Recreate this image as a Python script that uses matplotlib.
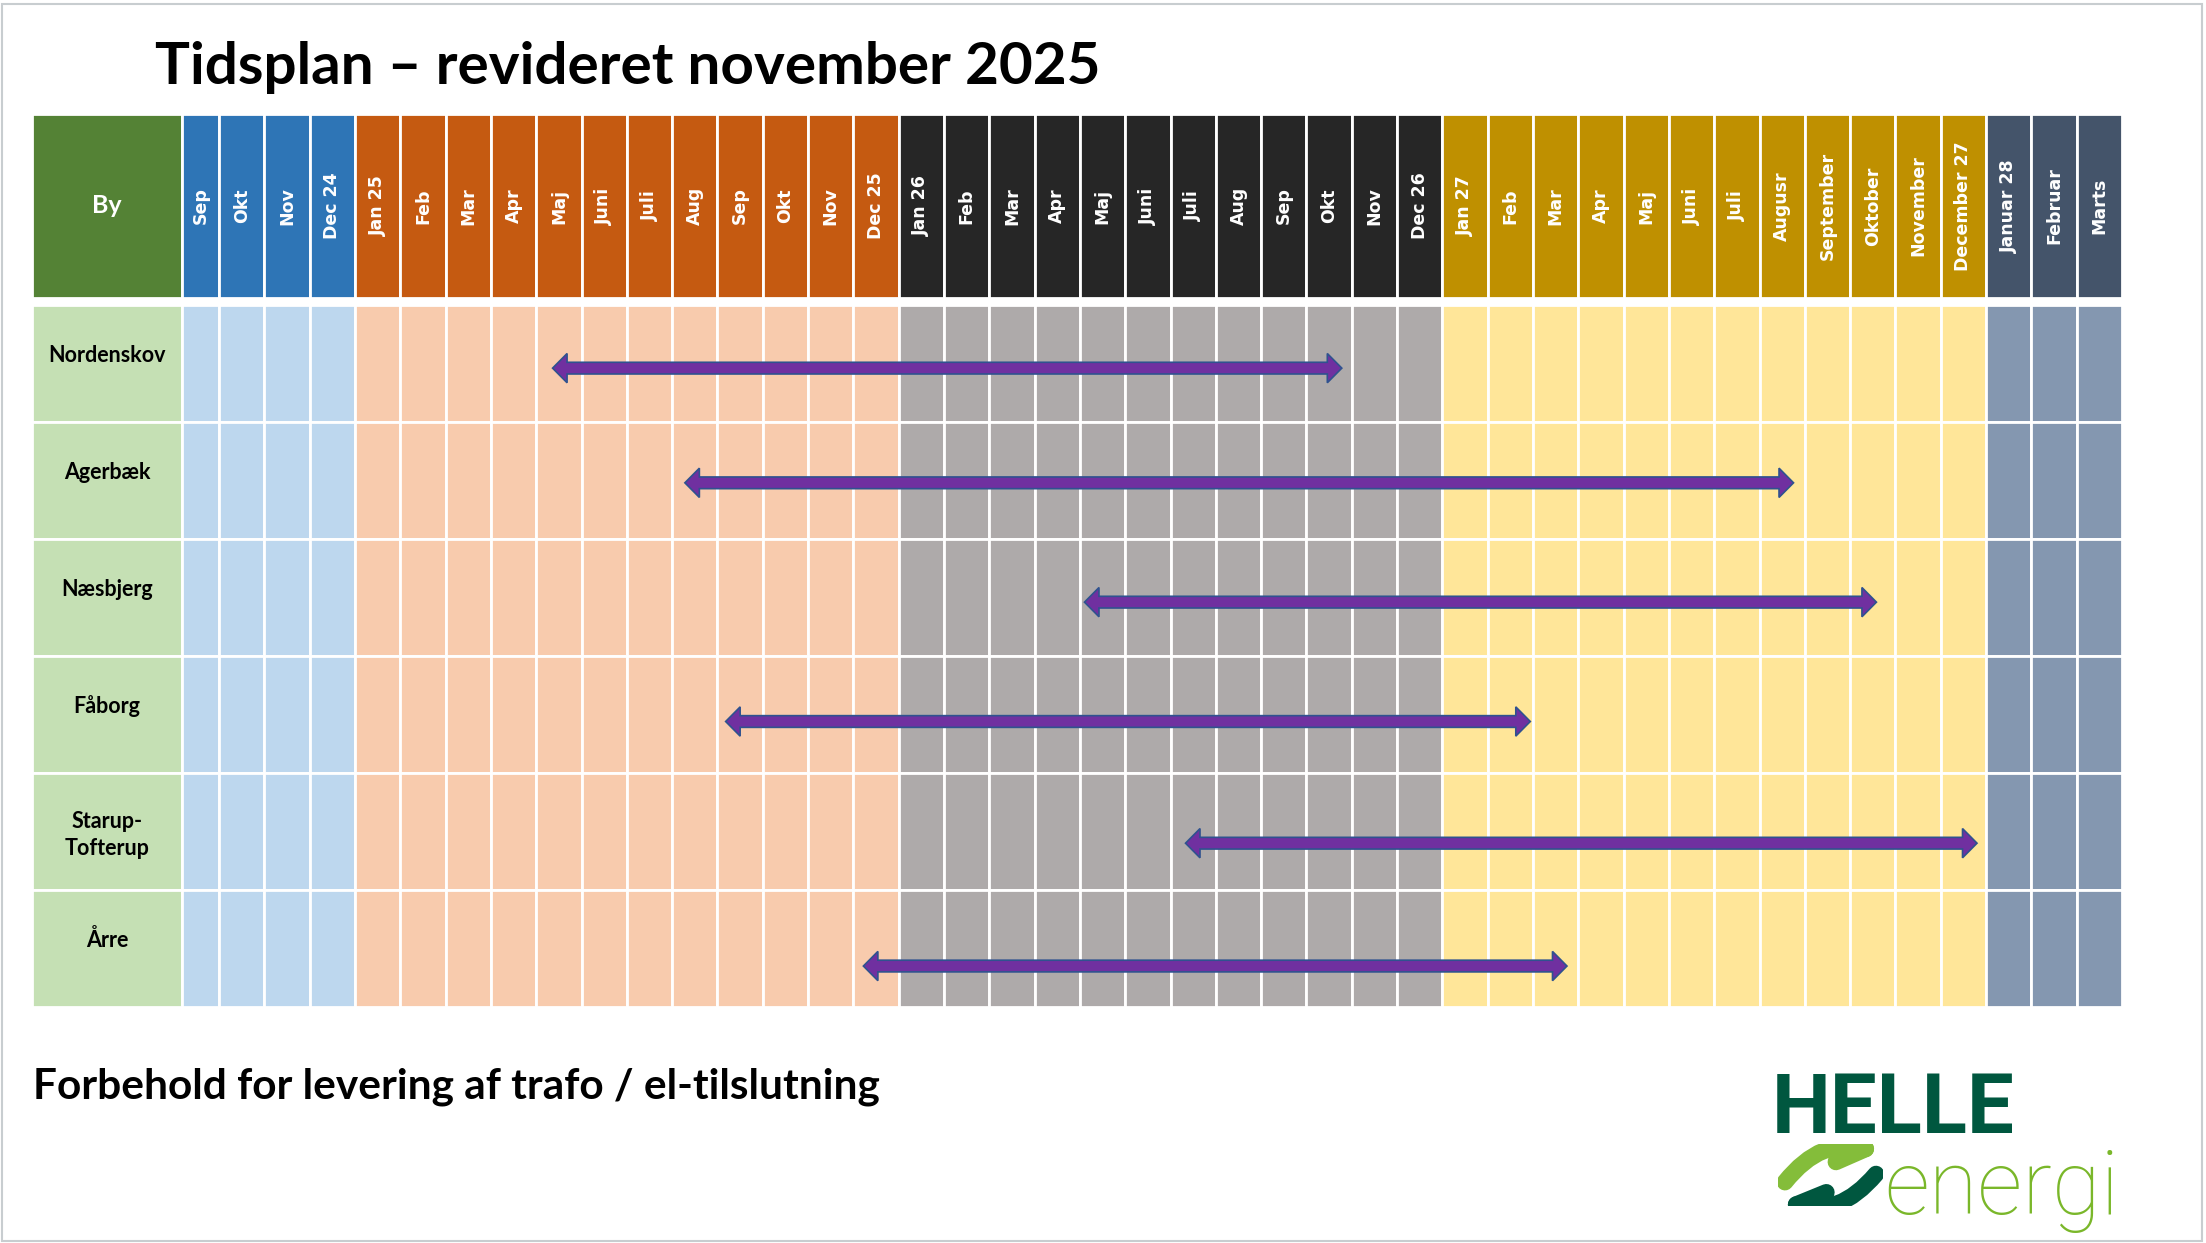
import numpy as np
import matplotlib
matplotlib.use("Agg")
import matplotlib.pyplot as plt
from matplotlib.patches import Rectangle, Polygon, FancyArrowPatch

# --- data -------------------------------------------------------------
months = ["Sep", "Okt", "Nov", "Dec 24",
          "Jan 25", "Feb", "Mar", "Apr", "Maj", "Juni", "Juli", "Aug", "Sep", "Okt", "Nov", "Dec 25",
          "Jan 26", "Feb", "Mar", "Apr", "Maj", "Juni", "Juli", "Aug", "Sep", "Okt", "Nov", "Dec 26",
          "Jan 27", "Feb", "Mar", "Apr", "Maj", "Juni", "Juli", "Augusr", "September", "Oktober",
          "November", "December 27",
          "Januar 28", "Februar", "Marts"]
group_sizes = [4, 12, 12, 12, 3]
header_colors = ["#2e75b6", "#c55a11", "#262626", "#bf9000", "#44546a"]
body_colors = ["#bdd7ee", "#f8cbad", "#aeaaaa", "#ffe699", "#8497b0"]

towns = ["Nordenskov", "Agerbæk", "Næsbjerg", "Fåborg", "Starup-\nTofterup", "Årre"]
# arrow ends in month-column units (column i spans [i, i+1])
arrow_start = [8.36, 11.28, 20.10, 12.18, 22.33, 15.22]
arrow_end = [25.78, 35.75, 37.58, 29.94, 39.80, 30.75]
arrow_ypos = [0.54, 0.52, 0.54, 0.56, 0.60, 0.65]

title = "Tidsplan – revideret november 2025"
footer = "Forbehold for levering af trafo / el-tilslutning"

W, H = 2206, 1243
fig = plt.figure(figsize=(W / 100, H / 100), dpi=100)
fig.patch.set_facecolor("white")

# thin frame round the slide
frame = fig.add_axes([0, 0, 1, 1])
frame.set_xlim(0, 1)
frame.set_ylim(0, 1)
frame.axis("off")
frame.add_patch(Rectangle((0.001, 0.002), 0.997, 0.995, fill=False, edgecolor="#c8cdd0", lw=1.5))

# --- table axes --------------------------------------------------------
x_left, x_right = -3.13, 43.0
y_top, y_bottom = -1.632, 6.0
ax = fig.add_axes([32 / W, (H - 1007) / H, (2122 - 32) / W, (1007 - 114) / H])
ax.set_xlim(x_left, x_right)
ax.set_ylim(y_bottom, y_top)
ax.axis("off")

hdr_bot = -0.06
sep_left = 0.18
edge_lw = 2.0

# "By" column
ax.add_patch(Rectangle((x_left, y_top), sep_left - x_left, hdr_bot - y_top,
                       facecolor="#548235", edgecolor="white", lw=edge_lw))
ax.text((x_left + sep_left) / 2, (y_top + hdr_bot) / 2, "By", color="white",
        fontsize=18, fontweight="bold", family="Lato", ha="center", va="center")
for r, town in enumerate(towns):
    ax.add_patch(Rectangle((x_left, r), sep_left - x_left, 1,
                           facecolor="#c5e0b4", edgecolor="white", lw=edge_lw))
    ty = r + (0.53 if "\n" in town else 0.43)
    ax.text((x_left + sep_left) / 2, ty, town, fontsize=15.5, fontweight="bold",
            family="Lato", ha="center", va="center", linespacing=1.3)

# month columns
col_group = np.repeat(np.arange(len(group_sizes)), group_sizes)
for i, label in enumerate(months):
    x0 = sep_left if i == 0 else i
    w = (i + 1) - x0
    g = col_group[i]
    ax.add_patch(Rectangle((x0, y_top), w, hdr_bot - y_top,
                           facecolor=header_colors[g], edgecolor="white", lw=edge_lw))
    ax.text(x0 + w / 2, (y_top + hdr_bot) / 2, label, color="white", rotation=90,
            fontsize=12.5, fontweight="bold", ha="center", va="center")
    for r in range(len(towns)):
        ax.add_patch(Rectangle((x0, r), w, 1, facecolor=body_colors[g],
                               edgecolor="white", lw=edge_lw))

# double-headed arrows
shaft = 0.05
head_w = 0.125
head_l = 0.32
for s, e, yp, r in zip(arrow_start, arrow_end, arrow_ypos, range(len(towns))):
    yc = r + yp
    pts = [(s, yc), (s + head_l, yc - head_w), (s + head_l, yc - shaft),
           (e - head_l, yc - shaft), (e - head_l, yc - head_w), (e, yc),
           (e - head_l, yc + head_w), (e - head_l, yc + shaft),
           (s + head_l, yc + shaft), (s + head_l, yc + head_w)]
    ax.add_patch(Polygon(pts, closed=True, facecolor="#7030a0",
                         edgecolor="#2f528f", lw=1.2, zorder=5))

# --- texts -------------------------------------------------------------
fig.text(155 / W, 1 - 84 / H, title, fontsize=42, fontweight="bold",
         family="Lato", ha="left", va="baseline")
fig.text(33 / W, 1 - 1099 / H, footer, fontsize=30.5, fontweight="bold",
         family="Lato", ha="left", va="baseline")

# --- logo --------------------------------------------------------------
fig.text(1772 / W, 1 - 1133 / H, "HELLE", fontsize=60, fontweight="bold",
         family="Roboto", color="#00573f", ha="left", va="baseline")
fig.text(1884 / W, 1 - 1214 / H, "energi", fontsize=64, fontweight="light",
         family="Roboto", color="#7ab72a", ha="left", va="baseline")
logo = fig.add_axes([1778 / W, (H - 1206) / H, 105 / W, 62 / H])
logo.set_xlim(0, 1)
logo.set_ylim(0, 1)
logo.axis("off")
logo.add_patch(FancyArrowPatch((0.05, 0.35), (0.98, 0.85), connectionstyle="arc3,rad=-0.35",
                               arrowstyle="-|>,head_length=6,head_width=5", mutation_scale=3,
                               color="#84bd3a", lw=12))
logo.add_patch(FancyArrowPatch((0.95, 0.55), (0.03, 0.1), connectionstyle="arc3,rad=-0.35",
                               arrowstyle="-|>,head_length=6,head_width=5", mutation_scale=3,
                               color="#00573f", lw=12))

fig.savefig("out.png", dpi=100)
